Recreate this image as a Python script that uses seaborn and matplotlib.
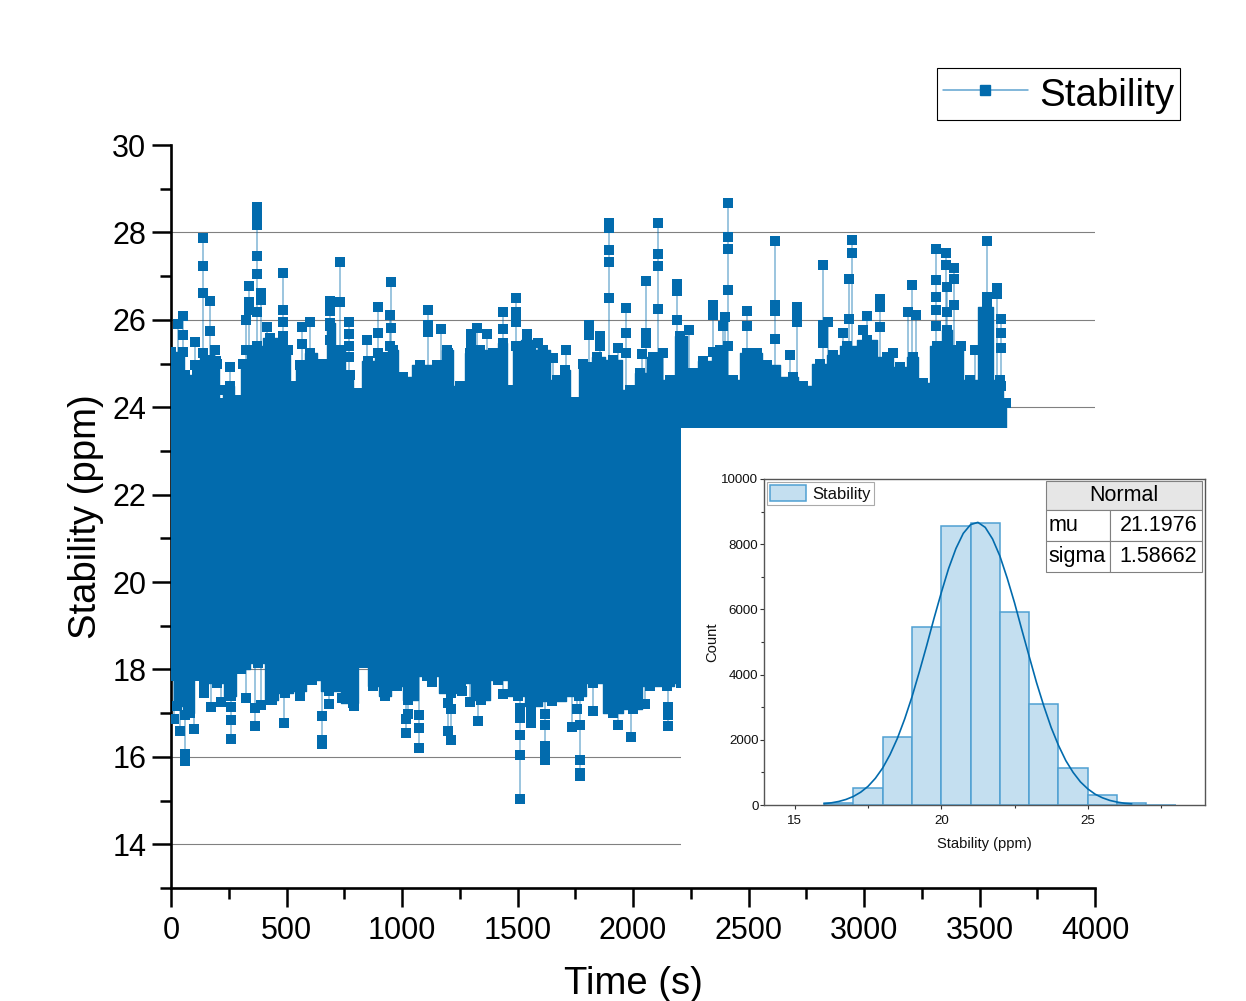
import pandas as pd
import seaborn as sns
import matplotlib.pyplot as plt
from matplotlib.lines import Line2D
from matplotlib.patches import Patch, Rectangle
from matplotlib.ticker import MultipleLocator

BLUE = '#026BAD'

# Isolated points sticking out of the dense band
spike_t = [32, 50, 50, 104, 104, 137, 137, 137, 169, 169, 190, 195, 255, 255, 325, 325, 339, 339, 339,
           372, 372, 372, 372, 372, 390, 390, 372, 417, 486, 486, 486, 486, 486, 566, 566, 602, 602,
           688, 688, 688, 688, 732, 732, 772, 772, 772, 772, 850, 895, 895, 898, 952, 948, 952, 948, 951,
           1113, 1113, 1113, 1167, 1201, 1297, 1297, 1323, 1367, 1439, 1439, 1494, 1494, 1494, 1540, 1590,
           1652, 1710, 1810, 1810, 1857, 1857, 1896, 1896, 1896, 1896, 1896, 1970, 1970, 1970, 1937,
           2056, 2056, 2056, 2038, 2107, 2107, 2107, 2107, 2131, 2189, 2189, 2189, 2244, 2348, 2348, 2348,
           2398, 2391, 2410, 2410, 2410, 2410, 2410, 2492, 2492, 2615, 2615, 2615, 2615, 2709, 2709, 2709,
           2680, 2824, 2824, 2824, 2824, 2846, 2950, 2950, 2937, 2937, 2910, 3012, 2997, 3069, 3069, 3069,
           3127, 3206, 3192, 3224, 3312, 3312, 3312, 3312, 3312, 3312, 3354, 3354, 3358, 3358, 3390, 3390,
           3390, 3420, 3481, 3534, 3534, 3524, 3574, 3574, 3592, 3592, 3592, 3592]
spike_v = [25.91, 26.09, 25.66, 25.5, 24.96, 27.87, 27.23, 26.62, 26.43, 25.75, 25.31, 25.05, 24.93, 24.42,
           26.0, 25.31, 26.77, 26.4, 26.23, 28.59, 28.38, 28.17, 27.46, 27.05, 26.62, 26.46, 26.19, 25.83,
           27.07, 26.23, 25.96, 25.62, 25.39, 25.83, 25.45, 25.94, 25.24, 26.42, 26.21, 25.85, 25.54,
           27.33, 26.4, 25.95, 25.68, 25.41, 25.15, 25.54, 26.3, 25.7, 25.25, 26.87, 26.11, 25.81, 25.39,
           25.16, 26.22, 25.89, 25.73, 25.78, 25.24, 25.68, 25.45, 25.81, 25.67, 26.17, 25.79, 26.51, 26.17,
           25.94, 25.68, 25.47, 25.12, 25.31, 25.88, 25.66, 25.62, 25.39, 28.22, 28.09, 27.59, 27.33, 26.51,
           26.27, 25.69, 25.24, 25.35, 26.89, 25.69, 25.46, 25.21, 28.22, 27.5, 27.23, 26.24, 25.24, 26.82,
           26.65, 26.0, 25.77, 26.34, 26.11, 25.27, 26.07, 25.85, 28.67, 27.89, 27.62, 26.69, 25.41, 26.2,
           25.85, 27.81, 26.34, 26.21, 25.56, 26.29, 26.11, 25.94, 25.2, 27.26, 25.89, 25.66, 25.48, 25.94,
           27.83, 27.54, 26.94, 26.01, 25.69, 26.09, 25.77, 26.47, 26.3, 25.83, 25.24, 26.8, 26.19, 26.11,
           27.61, 26.9, 26.53, 26.23, 25.85, 25.2, 27.54, 27.26, 26.74, 26.19, 27.18, 26.93, 26.34, 25.4,
           25.31, 27.8, 26.53, 26.04, 26.72, 26.59, 26.01, 25.69, 25.35, 24.48]
dip_t = [15, 40, 62, 62, 62, 99, 143, 175, 216, 259, 259, 259, 325, 362, 362, 388, 435, 491, 560, 652, 652,
         652, 685, 740, 794, 926, 1018, 1018, 1028, 1074, 1074, 1074, 1131, 1200, 1211, 1200, 1211, 1260,
         1296, 1329, 1437, 1511, 1511, 1511, 1511, 1511, 1560, 1560, 1621, 1621, 1621, 1621, 1621, 1736,
         1772, 1758, 1772, 1772, 1772, 1827, 1914, 1937, 1991, 2050, 2153, 2153, 2153, 2207]
dip_v = [16.87, 16.59, 16.95, 16.06, 15.9, 16.63, 17.47, 17.15, 17.26, 17.15, 16.84, 16.4, 17.35, 17.12, 16.7,
         17.18, 17.31, 16.78, 17.39, 16.93, 16.38, 16.29, 17.2, 17.35, 17.16, 17.45, 16.87, 16.55, 16.97,
         16.95, 16.67, 16.2, 17.71, 17.24, 17.1, 16.59, 16.38, 17.5, 17.26, 16.83, 17.45, 17.12, 16.89,
         16.51, 16.04, 15.04, 17.01, 16.78, 16.97, 16.74, 16.26, 16.09, 15.94, 16.69, 16.72, 17.09, 15.92,
         15.62, 15.56, 17.05, 17.0, 16.74, 16.46, 17.2, 17.15, 16.95, 16.7, 17.7]

# Outline of the solid band
upper_t = [0, 53, 61, 111, 137, 169, 198, 216, 234, 255, 291, 313, 342, 371, 429, 508, 522, 558, 602, 659, 688,
           732, 775, 804, 854, 912, 963, 1006, 1078, 1150, 1193, 1251, 1294, 1338, 1396, 1439, 1468, 1494, 1540,
           1612, 1670, 1706, 1749, 1785, 1800, 1843, 1915, 1987, 2030, 2088, 2160, 2203, 2261, 2305, 2377, 2434,
           2492, 2535, 2579, 2694, 2737, 2810, 2867, 2925, 3012, 3098, 3156, 3214, 3257, 3315, 3358, 3401, 3459,
           3531, 3589, 3615]
upper_v = [25.27, 25.27, 24.74, 24.74, 25.24, 25.08, 25.0, 24.09, 24.4, 24.48, 24.17, 25.0, 25.31, 25.39, 25.58,
           25.31, 24.48, 24.97, 25.24, 25.0, 25.92, 25.31, 24.74, 24.32, 25.05, 25.16, 25.31, 24.7, 24.97, 24.97,
           25.31, 24.48, 25.24, 25.31, 25.24, 25.47, 24.4, 25.39, 25.54, 25.31, 24.63, 24.86, 24.13, 25.0, 24.93,
           25.16, 25.08, 24.4, 24.78, 25.16, 24.63, 25.62, 24.78, 25.05, 25.31, 24.63, 25.24, 25.24, 24.97, 24.7,
           24.48, 25.0, 25.2, 25.39, 25.54, 25.16, 24.93, 25.16, 24.55, 25.39, 25.77, 25.31, 24.63, 26.3, 24.63,
           24.1]
lower_t = [0, 25, 83, 113, 143, 201, 259, 304, 377, 436, 494, 560, 611, 685, 787, 830, 875, 926, 978, 1028, 1108,
           1211, 1255, 1343, 1416, 1504, 1560, 1650, 1768, 1827, 1914, 2002, 2075, 2148, 2207, 2240]
lower_v = [17.85, 17.16, 17.01, 17.85, 17.7, 17.7, 17.39, 18.0, 18.15, 17.31, 17.47, 17.5, 17.77, 17.5, 17.24,
           18.15, 17.62, 17.39, 17.62, 17.31, 17.85, 17.47, 17.7, 17.31, 17.77, 17.39, 17.16, 17.28, 17.39, 17.7,
           17.01, 17.09, 17.62, 17.62, 17.7, 17.7]
band_centre = 21

# Inset histogram
bin_edges = [16, 17, 18, 19, 20, 21, 22, 23, 24, 25, 26, 27, 28]
bin_centres = [16.5, 17.5, 18.5, 19.5, 20.5, 21.5, 22.5, 23.5, 24.5, 25.5, 26.5, 27.5]
bin_counts = [70, 510, 2095, 5465, 8560, 8650, 5905, 3085, 1125, 317, 70, 12]
curve_x = [16, 16.25, 16.5, 16.75, 17, 17.25, 17.5, 17.75, 18, 18.25, 18.5, 18.75, 19, 19.25, 19.5, 19.75, 20,
           20.25, 20.5, 20.75, 21, 21.25, 21.5, 21.75, 22, 22.25, 22.5, 22.75, 23, 23.25, 23.5, 23.75, 24, 24.25,
           24.5, 24.75, 25, 25.25, 25.5, 25.75, 26, 26.25, 26.5]
curve_y = [40, 67, 108, 171, 262, 393, 572, 818, 1135, 1544, 2040, 2637, 3317, 4082, 4884, 5719, 6513, 7254, 7867,
           8332, 8601, 8670, 8516, 8160, 7637, 6958, 6202, 5372, 4558, 3756, 3034, 2377, 1828, 1362, 999, 708, 494,
           332, 221, 141, 90, 54, 33]
fit_rows = [['mu', '21.1976'], ['sigma', '1.58662']]

W, H = 1246, 1001


def fig_box(x0, y0, x1, y1):
    # pixel box of the reference -> figure fraction
    return [x0 / W, 1 - y1 / H, (x1 - x0) / W, (y1 - y0) / H]


sns.set_style('ticks')
plt.rcParams['font.family'] = ['Liberation Sans', 'DejaVu Sans']

fig = plt.figure(figsize=(W / 100, H / 100), dpi=100)
ax = fig.add_axes(fig_box(171, 145, 1095, 888))

# Main series
spikes = pd.DataFrame({'t': spike_t + dip_t, 'v': spike_v + dip_v})
edge = pd.DataFrame({'t': upper_t + lower_t, 'v': upper_v + lower_v})
stems = pd.concat([spikes, pd.DataFrame({'t': spikes['t'].unique(), 'v': band_centre})])
sns.lineplot(data=stems, x='t', y='v', units='t', estimator=None, color=BLUE, lw=1.1, alpha=0.5, ax=ax, zorder=3)
sns.scatterplot(data=pd.concat([spikes, edge]), x='t', y='v', marker='s', s=50, color=BLUE, linewidth=0, ax=ax, zorder=4)
ax.fill_between(upper_t, upper_v, band_centre, step='mid', color=BLUE, lw=1, zorder=4)
ax.fill_between(lower_t, lower_v, band_centre, step='mid', color=BLUE, lw=1, zorder=4)

ax.set_xlim(0, 4000)
ax.set_ylim(13, 30)
ax.xaxis.set_major_locator(MultipleLocator(500))
ax.xaxis.set_minor_locator(MultipleLocator(250))
ax.yaxis.set_major_locator(MultipleLocator(2))
ax.yaxis.set_minor_locator(MultipleLocator(1))
ax.tick_params(which='major', length=14, width=1.8, labelsize=22, color='black', labelcolor='black')
ax.tick_params(axis='x', which='major', pad=6)
ax.tick_params(axis='y', which='major', pad=3.7)
ax.tick_params(which='minor', length=8, width=1.8, color='black')
ax.grid(axis='y', which='major', color='#808080', lw=0.8, zorder=1)
ax.set_axisbelow(True)
for line, tick in zip(ax.yaxis.get_gridlines(), ax.get_yticks()):
    line.set_visible(tick < 30)
sns.despine(ax=ax)
for side in ['left', 'bottom']:
    ax.spines[side].set_linewidth(1.9)
    ax.spines[side].set_color('black')
ax.set_xlabel('Time (s)', fontsize=27.5, color='black')
ax.set_ylabel('Stability (ppm)', fontsize=27.5, color='black')
ax.xaxis.set_label_coords(0.5, -0.105)
ax.yaxis.set_label_coords(-0.0727, 0.5)

handle = Line2D([], [], color='#5FA3CF', lw=1.1, marker='s', markersize=6.5, markerfacecolor=BLUE, markeredgecolor=BLUE)
bx = fig_box(937, 67, 1180, 121)
leg = fig.legend(handles=[handle], labels=['Stability'], loc='center', bbox_to_anchor=(bx[0] + bx[2] / 2, bx[1] + bx[3] / 2),
                 fontsize=27.7, frameon=True, fancybox=False, edgecolor='black', framealpha=1, handlelength=2.2,
                 handleheight=1.09, handletextpad=0.29, borderpad=0.16, borderaxespad=0, labelcolor='black')
leg.get_frame().set_linewidth(0.8)

# White panel behind the inset covers the main plot
fig.add_artist(Rectangle((681 / W, 1 - 886 / H), 1 - 681 / W, (886 - 428) / H, transform=fig.transFigure, color='white', lw=0, zorder=1))

# Inset
inset = fig.add_axes(fig_box(764, 479, 1205, 805), zorder=3)
sns.histplot(x=bin_centres, weights=bin_counts, bins=bin_edges, color='#C4DFF0', edgecolor='#4FA0D2', alpha=1, linewidth=1.1, ax=inset,
             label='Stability')
sns.lineplot(x=curve_x, y=curve_y, color=BLUE, lw=1.2, ax=inset)
inset.set_xlim(13.95, 29)
inset.set_ylim(0, 10000)
inset.xaxis.set_major_locator(MultipleLocator(5))
inset.xaxis.set_minor_locator(MultipleLocator(2.5))
inset.yaxis.set_major_locator(MultipleLocator(2000))
inset.yaxis.set_minor_locator(MultipleLocator(1000))
inset.tick_params(which='major', length=3, width=0.8, labelsize=9.6, color='#333333', labelcolor='#111111')
inset.tick_params(axis='x', which='major', pad=4)
inset.tick_params(axis='y', which='major', pad=1)
inset.tick_params(which='minor', length=2, width=0.8, color='#333333')
for spine in inset.spines.values():
    spine.set_linewidth(1)
    spine.set_color('#555555')
inset.set_xlabel('Stability (ppm)', fontsize=10.6, color='#111111', labelpad=7.5)
inset.set_ylabel('Count', fontsize=10.6, color='#111111', labelpad=1.5)

leg2 = inset.legend(handles=[Patch(facecolor='#C4DFF0', edgecolor='#4FA0D2', lw=1.1)], labels=['Stability'], loc='upper left',
                    bbox_to_anchor=(3 / 441, 1 - 3 / 326), fontsize=12, frameon=True, fancybox=False, edgecolor='#AAAAAA', framealpha=1,
                    borderaxespad=0, borderpad=0.2, handlelength=2.15, handleheight=1.1, handletextpad=0.35, labelcolor='#111111')
leg2.get_frame().set_linewidth(0.8)

# Fit parameter table
head = inset.table(cellText=[['Normal']], cellLoc='center',
                   bbox=[(1045.5 - 764) / 441, (805 - 510) / 326, 156.5 / 441, 29 / 326])
body = inset.table(cellText=fit_rows, colWidths=[65, 92],
                   bbox=[(1045.5 - 764) / 441, (805 - 572) / 326, 156.5 / 441, 62 / 326])
for tab in [head, body]:
    tab.auto_set_font_size(False)
    tab.set_fontsize(15.5)
    tab.set_zorder(6)
    for cell in tab.get_celld().values():
        cell.set_edgecolor('#808080')
        cell.set_linewidth(0.8)
        cell.set_facecolor('white')
        cell.get_text().set_color('black')
head[(0, 0)].set_facecolor('#E6E6E6')
for row in range(2):
    body[(row, 0)].get_text().set_ha('left')
    body[(row, 0)].PAD = 0.05
    body[(row, 1)].get_text().set_ha('right')
    body[(row, 1)].PAD = 0.05

fig.savefig('out.png', dpi=100)
